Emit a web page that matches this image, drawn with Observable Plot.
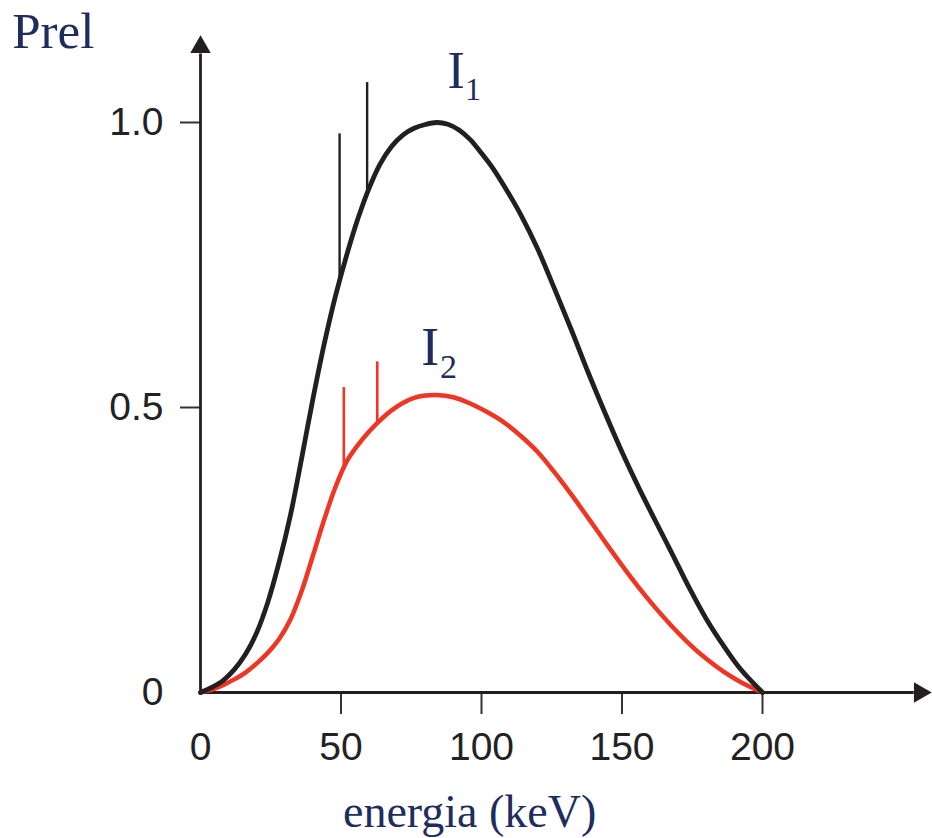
<!DOCTYPE html>
<html><head><meta charset="utf-8">
<script src="https://cdn.jsdelivr.net/npm/d3@7"></script>
<script src="https://cdn.jsdelivr.net/npm/@observablehq/plot@0.6"></script>
<style>body{margin:0;background:#fff}</style>
</head><body><div id="chart"></div>
<script>
// Curve I1 (black)
const energyI1 = [0,4,8,12,16,20,24,28,32,36,40,44,48,52,56,60,64,68,72,76,80,84,88,92,96,100,104,108,114,120,126,132,138,144,150,156,162,168,174,180,186,192,200];
const relI1    = [0,0.009,0.021,0.04,0.067,0.105,0.159,0.229,0.311,0.411,0.515,0.611,0.695,0.767,0.831,0.885,0.928,0.958,0.978,0.99,0.9965,1.0,0.997,0.987,0.97,0.946,0.92,0.889,0.838,0.778,0.708,0.636,0.561,0.49,0.422,0.359,0.3,0.242,0.183,0.129,0.083,0.042,0];
// Curve I2 (red)
const energyI2 = [0,4,8,12,16,20,24,28,32,36,40,44,48,52,56,60,64,68,72,76,80,84,90,96,102,108,114,120,126,132,138,144,150,156,162,168,174,180,186,192,200];
const relI2    = [0,0.005,0.013,0.023,0.035,0.051,0.07,0.094,0.128,0.178,0.24,0.303,0.36,0.405,0.434,0.458,0.478,0.495,0.508,0.517,0.521,0.522,0.518,0.507,0.492,0.474,0.45,0.422,0.386,0.347,0.306,0.264,0.223,0.184,0.148,0.115,0.085,0.059,0.037,0.019,0];
// Characteristic lines
const lineEnergyI1 = [49.5, 59.3];
const lineBaseI1   = [0.722, 0.876];
const lineTopI1    = [0.98, 1.07];
const lineEnergyI2 = [51.0, 62.9];
const lineBaseI2   = [0.394, 0.473];
const lineTopI2    = [0.535, 0.58];
// Ticks
const xTickLabels = [0, 50, 100, 150, 200];
const xTickMarks  = [50, 100, 150, 200];
const yTickLabels = [0, 0.5, 1.0];
const yTickMarks  = [0.5, 1.0];
// Texts
const yTitle = "Prel";
const xTitle = "energia (keV)";
const seriesNames = ["I", "I"];
const seriesSubs = ["1", "2"];

const curveI1 = energyI1.map((e, i) => ({e, p: relI1[i]}));
const curveI2 = energyI2.map((e, i) => ({e, p: relI2[i]}));
const spikesI1 = lineEnergyI1.map((e, i) => ({e, b: lineBaseI1[i], t: lineTopI1[i]}));
const spikesI2 = lineEnergyI2.map((e, i) => ({e, b: lineBaseI2[i], t: lineTopI2[i]}));

const BLACK = "#231f20", RED = "#ef3523", NAVY = "#1f2d5e";
const SANS = "'Liberation Sans Narrow','Arial Narrow','Liberation Sans',sans-serif";
const SERIF = "'Liberation Serif','Times New Roman',serif";

const chart = Plot.plot({
  width: 932, height: 838,
  marginLeft: 200, marginRight: 170, marginTop: 122, marginBottom: 146,
  x: {domain: [0, 200]},
  y: {domain: [0, 1]},
  style: {background: "white", fontFamily: SANS, overflow: "visible"},
  marks: [
    Plot.axisX(xTickLabels, {tickSize: 0, tickPadding: 40, fontSize: 39, fill: "#222", label: null, tickFormat: d => String(d)}),
    Plot.axisX(xTickMarks, {tickSize: 22, strokeWidth: 2, stroke: "#333", text: null, label: null}),
    Plot.axisY(yTickLabels, {tickSize: 0, tickPadding: 37, fontSize: 39, fill: "#222", label: null, tickFormat: d => d === 0 ? "0" : d.toFixed(1)}),
    Plot.axisY(yTickMarks, {tickSize: 20, strokeWidth: 2, stroke: "#333", text: null, label: null}),
    Plot.ruleY([0], {x1: 0, x2: 254, stroke: BLACK, strokeWidth: 2.8}),
    Plot.ruleX([0], {y1: 0, y2: 1.12, stroke: BLACK, strokeWidth: 2.8}),
    Plot.dot([0], {x: 0, y: 1.1325, symbol: "triangle", r: 7.6, fill: BLACK, stroke: "none"}),
    Plot.dot([0], {x: 256, y: 0, symbol: "triangle", r: 7.6, fill: BLACK, stroke: "none", rotate: 90}),
    Plot.line(curveI2, {x: "e", y: "p", stroke: RED, strokeWidth: 4.5, curve: "catmull-rom"}),
    Plot.ruleX(spikesI2, {x: "e", y1: "b", y2: "t", stroke: RED, strokeWidth: 2.6}),
    Plot.line(curveI1, {x: "e", y: "p", stroke: BLACK, strokeWidth: 4.8, curve: "catmull-rom"}),
    Plot.ruleX(spikesI1, {x: "e", y1: "b", y2: "t", stroke: BLACK, strokeWidth: 2.4}),
    Plot.text([yTitle], {x: -67, y: 1.13, text: d => d, textAnchor: "start", lineAnchor: "bottom", fontSize: 51, fontFamily: SERIF, fill: NAVY}),
    Plot.text([xTitle], {x: 50.7, y: -0.2368, text: d => d, textAnchor: "start", lineAnchor: "bottom", fontSize: 46, fontFamily: SERIF, fill: NAVY}),
    Plot.text([seriesNames[0]], {x: 87.9, y: 1.06, text: d => d, textAnchor: "start", lineAnchor: "bottom", fontSize: 52, fontFamily: SERIF, fill: NAVY}),
    Plot.text([seriesSubs[0]], {x: 94.1, y: 1.0386, text: d => d, textAnchor: "start", lineAnchor: "bottom", fontSize: 32, fontFamily: SERIF, fill: NAVY}),
    Plot.text([seriesNames[1]], {x: 78.6, y: 0.5737, text: d => d, textAnchor: "start", lineAnchor: "bottom", fontSize: 54, fontFamily: SERIF, fill: NAVY}),
    Plot.text([seriesSubs[1]], {x: 85.2, y: 0.5526, text: d => d, textAnchor: "start", lineAnchor: "bottom", fontSize: 34, fontFamily: SERIF, fill: NAVY})
  ]
});
document.getElementById("chart").append(chart);
</script>
</body></html>
